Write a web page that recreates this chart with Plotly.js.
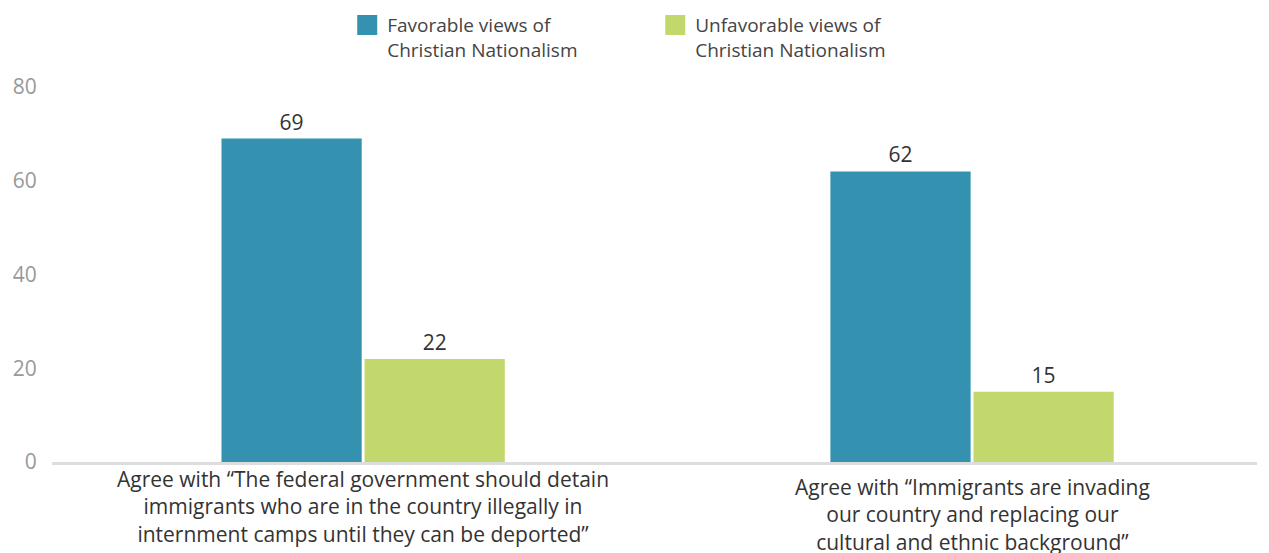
<!DOCTYPE html>
<html>
<head>
<meta charset="utf-8">
<script src="https://cdn.plot.ly/plotly-3.0.1.min.js"></script>
<style>html,body{margin:0;padding:0;background:#fff;}#chart{width:1269px;height:553px;}</style>
</head>
<body>
<div id="chart"></div>
<script>
const categories = ["cat1", "cat2"];
const categoryLabels = [
  "Agree with “The federal government should detain<br>immigrants who are in the country illegally in<br>internment camps until they can be deported”",
  "Agree with “Immigrants are invading<br>our country and replacing our<br>cultural and ethnic background”"
];
const favorable = [69, 62];
const unfavorable = [22, 15];
const seriesNames = ["Favorable views of<br>Christian Nationalism", "Unfavorable views of<br>Christian Nationalism"];
const seriesColors = ['#3591b0', '#c3d86c'];
const yTicks = [0, 20, 40, 60, 80];

const font = "'Open Sans', 'Noto Sans', sans-serif";
const traces = [
  {type:'bar', x:categories, y:favorable, name:seriesNames[0], marker:{color:seriesColors[0]},
   text:favorable.map(String), textposition:'outside', cliponaxis:false, showlegend:false,
   textfont:{family:font, size:21, color:'#333'}, hoverinfo:'y'},
  {type:'bar', x:categories, y:unfavorable, name:seriesNames[1], marker:{color:seriesColors[1]},
   text:unfavorable.map(String), textposition:'outside', cliponaxis:false, showlegend:false,
   textfont:{family:font, size:21, color:'#333'}, hoverinfo:'y'},
  // legend entries
  {type:'scatter', mode:'markers', x:[null], y:[null], name:seriesNames[0],
   marker:{symbol:'square', size:16, color:seriesColors[0], line:{color:seriesColors[0], width:4}}, showlegend:true, hoverinfo:'skip'},
  {type:'scatter', mode:'markers', x:[null], y:[null], name:seriesNames[1],
   marker:{symbol:'square', size:16, color:seriesColors[1], line:{color:seriesColors[1], width:4}}, showlegend:true, hoverinfo:'skip'}
];
const yOff = [0, -0.021];
const layout = {
  width:1269, height:553,
  margin:{l:52, r:12, t:87, b:91},
  paper_bgcolor:'#fff', plot_bgcolor:'#fff',
  font:{family:font, color:'#333'},
  barmode:'group', bargap:0.53, bargroupgap:0.02,
  showlegend:true,
  legend:{orientation:'h', x:0.245, xanchor:'left', xref:'paper', y:0.989, yref:'container', yanchor:'top',
    valign:'top', font:{family:font, size:19, color:'#444'}, entrywidth:263, entrywidthmode:'pixels',
    traceorder:'normal', itemsizing:'trace'},
  xaxis:{type:'category', range:[-0.511, 1.468], showticklabels:false, showgrid:false,
    showline:true, linecolor:'#dddddd', linewidth:3, zeroline:false, ticks:'', fixedrange:true},
  yaxis:{range:[0,80], tickvals:yTicks, ticktext:yTicks.map(String), showgrid:false, zeroline:false,
    showline:false, ticks:'outside', ticklen:10, tickcolor:'rgba(0,0,0,0)',
    tickfont:{family:font, size:21, color:'#999'}, fixedrange:true},
  annotations: categories.map((c,i)=>({x:c, xref:'x', y:-0.002+yOff[i], yref:'paper', yanchor:'top',
    text:categoryLabels[i], showarrow:false, align:'center',
    font:{family:font, size:21, color:'#333'}}))
};
Plotly.newPlot('chart', traces, layout, {displayModeBar:false, staticPlot:true});
</script>
</body>
</html>
